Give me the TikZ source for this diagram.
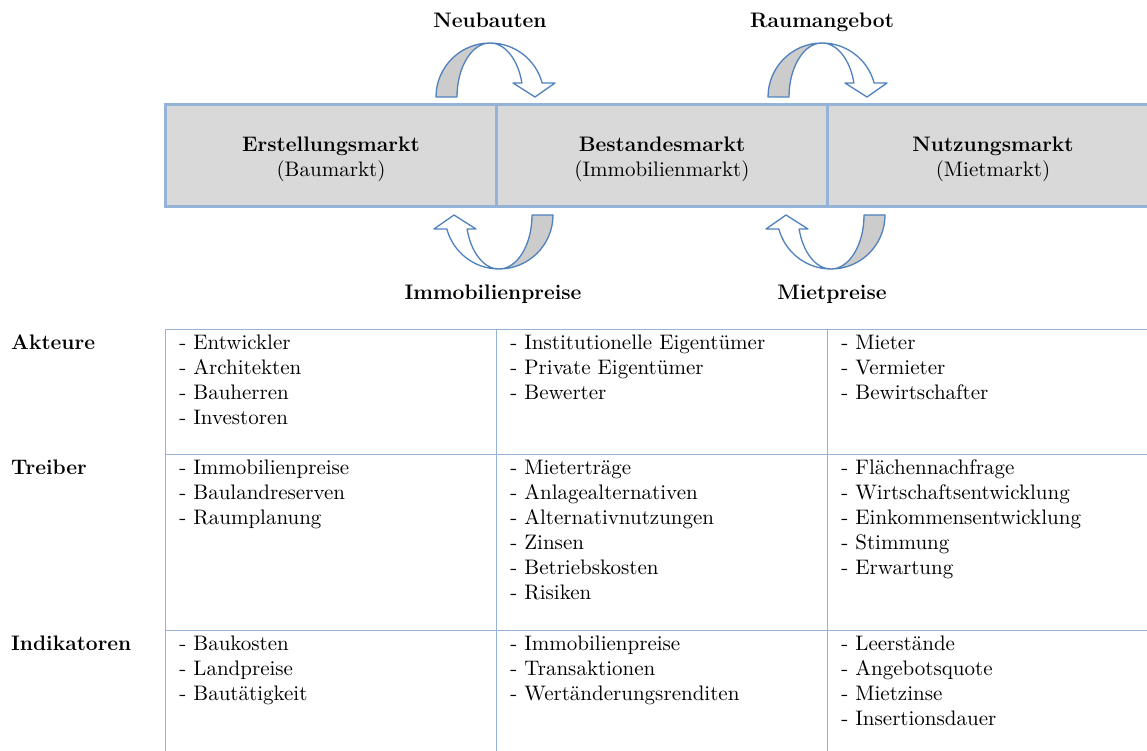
\documentclass[tikz,border=0pt]{standalone}
\usepackage{fontspec}
\definecolor{randblau}{RGB}{149,179,215}
\definecolor{pfeilblau}{RGB}{79,129,189}
\definecolor{kastengrau}{RGB}{217,217,217}
\definecolor{pfeilgrau}{RGB}{204,204,204}
\begin{document}
\begin{tikzpicture}[x=1pt,y=-1pt,
  schrift/.style={font=\fontsize{10.5}{12.5}\selectfont,scale=2,inner sep=0},
  fett/.style={font=\fontsize{21}{25}\selectfont\bfseries,inner sep=0},
  linie/.style={draw=randblau,line width=1pt},
  pfeilrand/.style={draw=pfeilblau,line width=1.3pt,line join=round}]
  \useasboundingbox (0,0) rectangle (1147,751);
  % Maerkte
  \fill[kastengrau] (165,105) rectangle (1147,207);
  \draw[randblau,line width=3pt] (1147,105) -- (165,105) -- (165,207) -- (1147,207);
  \draw[randblau,line width=3pt] (496.5,105) -- (496.5,207) (827.5,105) -- (827.5,207);
  \foreach \n/\x/\titel/\unter in {erst/331/Erstellungsmarkt/Baumarkt,
      best/662/Bestandesmarkt/Immobilienmarkt, nutz/993/Nutzungsmarkt/Mietmarkt} {
    \node[fett,anchor=base] (\n) at (\x,152) {\titel};
    \node[schrift,anchor=base] (\n-u) at (\x,177) {(\unter)};
  }
  % Kreispfeile
  \foreach \x/\y/\w in {490/97/0, 822/97/0, 499/215/180, 831/215/180} {
    \begin{scope}[shift={(\x,\y)},rotate=\w]
      \filldraw[pfeilrand,fill=pfeilgrau] (-54,0) arc[start angle=180,end angle=270,radius=54]
        arc[start angle=270,end angle=180,x radius=33,y radius=54] -- cycle;
      \filldraw[pfeilrand,fill=white] (0,-54) arc[start angle=270,end angle=345,radius=54]
        -- (65,-14) -- (45,0) -- (23,-14) -- (31.9,-14)
        arc[start angle=345,end angle=270,x radius=33,y radius=54] -- cycle;
    \end{scope}
  }
  \node[fett,anchor=base] (neubauten) at (490,28) {Neubauten};
  \node[fett,anchor=base] (raumangebot) at (822,28) {Raumangebot};
  \node[fett,anchor=base] (immopreise) at (493,299) {Immobilienpreise};
  \node[fett,anchor=base] (mietpreise) at (832,299) {Mietpreise};
  % Tabelle
  \foreach \y in {329.5,454.5,630.5}
    \draw[linie] (165,\y) -- (1147,\y);
  \foreach \x in {165,496.5,827.5}
    \draw[linie] (\x,329.5) -- (\x,751);
  \foreach \n/\y/\t in {akt/349/Akteure, trei/474/Treiber, ind/650/Indikatoren}
    \node[fett,anchor=base west] (\n) at (11,\y) {\t};
  \foreach \n/\x/\y/\liste in {
      akt1/179/349/{Entwickler,Architekten,Bauherren,Investoren},
      akt2/510/349/{Institutionelle Eigentümer,Private Eigentümer,Bewerter},
      akt3/841/349/{Mieter,Vermieter,Bewirtschafter},
      trei1/179/474/{Immobilienpreise,Baulandreserven,Raumplanung},
      trei2/510/474/{Mieterträge,Anlagealternativen,Alternativnutzungen,Zinsen,Betriebskosten,Risiken},
      trei3/841/474/{Flächennachfrage,Wirtschaftsentwicklung,Einkommensentwicklung,Stimmung,Erwartung},
      ind1/179/650/{Baukosten,Landpreise,Bautätigkeit},
      ind2/510/650/{Immobilienpreise,Transaktionen,Wertänderungsrenditen},
      ind3/841/650/{Leerstände,Angebotsquote,Mietzinse,Insertionsdauer}} {
    \foreach \t [count=\i] in \liste
      \node[schrift,anchor=base west] (\n-\i) at (\x,\y+25*\i-25) {- \t};
  }
\end{tikzpicture}
\end{document}
